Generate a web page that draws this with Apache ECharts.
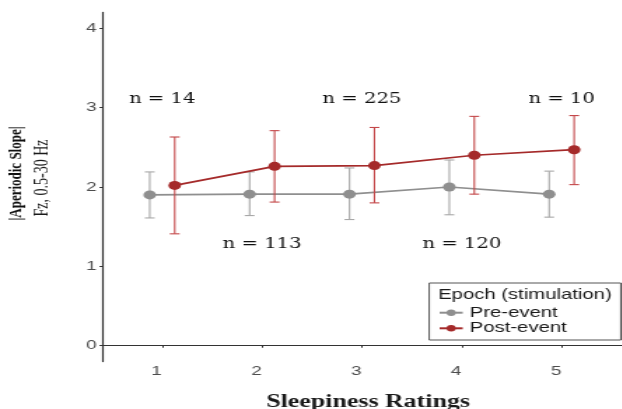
<!DOCTYPE html>
<html>
<head>
<meta charset="utf-8">
<script src="https://cdn.jsdelivr.net/npm/echarts@6/dist/echarts.min.js"></script>
<style>
  html, body { margin: 0; padding: 0; background: #ffffff; overflow: hidden; }
  #wrap { width: 622px; height: 409px; overflow: hidden; position: relative; }
  #chart { width: 444.3px; height: 409px; transform: scaleX(1.4); transform-origin: 0 0; }
</style>
</head>
<body>
<div id="wrap"><div id="chart"></div></div>
<script>
// ---- data ----
const categories = [1, 2, 3, 4, 5];
const preMean  = [1.90, 1.91, 1.91, 2.00, 1.91];
const preLow   = [1.61, 1.64, 1.59, 1.65, 1.62];
const preHigh  = [2.19, 2.19, 2.24, 2.34, 2.20];
const postMean = [2.02, 2.26, 2.27, 2.40, 2.47];
const postLow  = [1.41, 1.81, 1.80, 1.91, 2.03];
const postHigh = [2.63, 2.71, 2.75, 2.89, 2.90];
const nLabels  = ['n = 14', 'n = 113', 'n = 225', 'n = 120', 'n = 10'];
const nLabelY  = [3.1, 1.28, 3.1, 1.28, 3.1];
const xTicks   = [1, 2, 3, 4, 5];
const yTicks   = [0, 1, 2, 3, 4];
const seriesNames = ['Pre-event', 'Post-event'];

// ---- styling / layout ----
const DODGE = 0.125;
const GREY = '#8f8f8f', GREY_BAR = '#a8a8a8';
const RED = '#a52a2a', RED_BAR = '#c4484a';

const preLine  = categories.map((c, i) => [c - DODGE, preMean[i]]);
const postLine = categories.map((c, i) => [c + DODGE, postMean[i]]);
const preErr   = categories.map((c, i) => [c - DODGE, preLow[i], preHigh[i]]);
const postErr  = categories.map((c, i) => [c + DODGE, postLow[i], postHigh[i]]);
const annData  = categories.map((c, i) => [c, nLabelY[i], nLabels[i]]);

function errRender(color) {
  return function (params, api) {
    const x = api.value(0);
    const lo = api.coord([x, api.value(1)]);
    const hi = api.coord([x, api.value(2)]);
    const hw = 3.5;
    const st = { stroke: color, lineWidth: 1.1 };
    return {
      type: 'group',
      children: [
        { type: 'line', shape: { x1: lo[0], y1: lo[1], x2: hi[0], y2: hi[1] }, style: st },
        { type: 'line', shape: { x1: hi[0] - hw, y1: hi[1], x2: hi[0] + hw, y2: hi[1] }, style: st },
        { type: 'line', shape: { x1: lo[0] - hw, y1: lo[1], x2: lo[0] + hw, y2: lo[1] }, style: st }
      ]
    };
  };
}

const chart = echarts.init(document.getElementById('chart'), null, { renderer: 'canvas' });
const axisCol = '#333333';
const tickFont = { fontFamily: 'Liberation Sans', fontSize: 13.5, color: '#4d4d4d' };

chart.setOption({
  backgroundColor: '#ffffff',
  animation: false,
  grid: { left: 73.07, width: 374.2, top: 12.4, bottom: 47.4 },
  xAxis: {
    type: 'value', min: 0.4, max: 5.6,
    splitLine: { show: false },
    axisLine: { lineStyle: { color: axisCol, width: 1.2 } },
    axisTick: { length: 2, lineStyle: { color: axisCol }, customValues: xTicks },
    axisLabel: Object.assign({ margin: 3, padding: [0, 8, 0, 0], customValues: xTicks }, tickFont)
  },
  yAxis: {
    type: 'value', min: -0.2, max: 4.2,
    splitLine: { show: false },
    axisLine: { show: true, lineStyle: { color: axisCol, width: 1.2 } },
    axisTick: { show: true, length: 2, lineStyle: { color: axisCol }, customValues: yTicks },
    axisLabel: Object.assign({ margin: 4, customValues: yTicks }, tickFont)
  },
  legend: {
    data: seriesNames,
    orient: 'vertical',
    left: 313, top: 305.2,
    padding: 0,
    itemGap: 0.6,
    itemWidth: 16.5, itemHeight: 8,
    textStyle: { fontFamily: 'Liberation Sans', fontSize: 14.5, color: '#1a1a1a', lineHeight: 15 },
    selectedMode: false
  },
  graphic: [
    { type: 'rect', shape: { x: 306.6, y: 283, width: 136.8, height: 57 },
      style: { fill: '#ffffff', stroke: '#555555', lineWidth: 1 }, z: 0, zlevel: 0 },
    { type: 'text', x: 312.9, y: 295, z: 1,
      style: { text: 'Epoch (stimulation)', font: '14.5px "Liberation Sans"', fill: '#1a1a1a',
               textAlign: 'left', textVerticalAlign: 'middle' } },
    { type: 'text', x: 262.9, y: 393, z: 1,
      style: { text: 'Sleepiness Ratings', font: 'bold 18.5px "Liberation Serif"', fill: '#1a1a1a',
               textAlign: 'center', textVerticalAlign: 'top' } },
    { type: 'text', x: 11.4, y: 173.5, rotation: Math.PI / 2, z: 1,
      style: { text: '|Aperiodic Slope|', font: 'bold 13px "Liberation Serif"', fill: '#111111',
               textAlign: 'center', textVerticalAlign: 'middle' } },
    { type: 'text', x: 30, y: 178, rotation: Math.PI / 2, z: 1,
      style: { text: 'Fz, 0.5-30 Hz', font: '14px "Liberation Serif"', fill: '#1a1a1a',
               textAlign: 'center', textVerticalAlign: 'middle' } }
  ],
  series: [
    { type: 'custom', name: 'preErr', data: preErr, encode: { x: 0, y: [1, 2] },
      renderItem: errRender(GREY_BAR), silent: true, z: 2 },
    { type: 'line', name: seriesNames[0], data: preLine, symbol: 'circle', symbolSize: 9,
      itemStyle: { color: GREY }, lineStyle: { color: GREY, width: 1.7 }, z: 3 },
    { type: 'custom', name: 'postErr', data: postErr, encode: { x: 0, y: [1, 2] },
      renderItem: errRender(RED_BAR), silent: true, z: 4 },
    { type: 'line', name: seriesNames[1], data: postLine, symbol: 'circle', symbolSize: 9,
      itemStyle: { color: RED }, lineStyle: { color: RED, width: 1.7 }, z: 5 },
    { type: 'custom', name: 'ann', data: annData, encode: { x: 0, y: 1 }, silent: true, z: 6,
      renderItem: function (params, api) {
        const p = api.coord([api.value(0), api.value(1)]);
        return { type: 'text', x: p[0], y: p[1],
          style: { text: annData[params.dataIndex][2], font: '14px "DejaVu Serif"', fill: '#111111',
                   textAlign: 'center', textVerticalAlign: 'middle' } };
      } }
  ]
});
</script>
</body>
</html>
